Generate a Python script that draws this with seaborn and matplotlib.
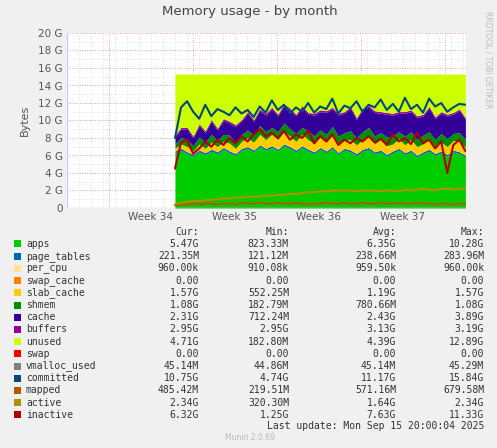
import matplotlib
matplotlib.use("Agg")
import matplotlib.pyplot as plt
import seaborn as sns
import numpy as np

# time axis in days from left edge of the graph
days = np.linspace(9.0, 33.2, 49)

apps = [6.3, 6.6, 6.2, 5.9, 6.4, 6.1, 6.5, 6.2, 6.7, 6.3, 6.0, 6.6, 6.8, 6.4, 7.0, 6.6, 6.9, 6.5, 7.1, 6.8,
        6.4, 6.9, 6.5, 6.2, 6.7, 6.3, 6.8, 6.1, 6.6, 6.4, 6.0, 6.5, 6.7, 6.2, 6.4, 5.9, 6.3, 6.6, 6.1, 6.4,
        5.8, 6.2, 6.5, 6.0, 6.3, 5.9, 6.4, 6.2, 5.8]
page_tables = [0.22] * 49
slab_cache = [0.3, 0.5, 0.6, 0.4, 0.7, 0.5, 0.8, 0.6, 0.7, 0.9, 0.6, 0.8, 1.0, 0.9, 1.2, 1.0, 1.3, 1.1, 1.4, 1.2,
              1.0, 1.3, 1.1, 0.9, 1.2, 1.0, 1.3, 1.1, 0.9, 1.2, 1.0, 1.1, 1.3, 0.9, 1.2, 1.0, 0.8, 1.1, 0.9, 1.2,
              1.0, 0.9, 1.1, 0.8, 1.0, 0.9, 1.1, 1.2, 0.9]
shmem = [0.5, 0.7, 0.8, 0.6, 0.8, 0.7, 0.9, 0.7, 0.8, 0.9, 0.7, 0.8, 0.9, 0.8, 1.0, 0.9, 0.8, 0.9, 1.0, 0.8,
         0.9, 0.8, 1.0, 0.9, 0.8, 0.9, 1.0, 0.8, 0.9, 1.0, 0.8, 0.9, 1.0, 0.9, 0.8, 1.0, 0.9, 0.8, 1.0, 0.9,
         0.8, 1.0, 0.9, 0.8, 1.0, 0.9, 0.8, 1.0, 0.9]
cache = [0.8, 1.0, 1.2, 0.9, 1.3, 1.1, 1.5, 1.2, 1.6, 1.4, 1.8, 1.5, 1.9, 1.6, 1.7, 1.9, 2.1, 1.8, 2.0, 2.2,
         2.0, 2.3, 1.9, 2.4, 2.1, 2.5, 2.0, 2.4, 2.2, 2.6, 2.1, 2.5, 2.3, 2.7, 2.2, 2.6, 2.4, 2.1, 2.6, 2.3,
         2.5, 2.2, 2.7, 2.4, 2.3, 2.6, 2.2, 2.5, 2.3]
buffers = [0.2] * 49
total_mem = 15.3

committed = [8.0, 11.5, 12.2, 11.0, 10.2, 11.8, 10.5, 11.3, 11.0, 10.6, 11.5, 10.8, 11.2, 10.4, 11.6, 10.9, 12.3,
             11.2, 11.8, 10.8, 11.5, 11.0, 12.0, 10.9, 11.6, 11.3, 12.5, 10.8, 11.7, 11.4, 12.2, 11.0, 11.8, 11.5,
             12.4, 11.2, 11.9, 11.0, 12.6, 11.3, 11.8, 10.9, 12.5, 11.6, 12.0, 11.0, 11.5, 11.9, 11.8]
inactive = [4.5, 7.5, 7.8, 6.2, 6.8, 7.6, 7.0, 7.8, 7.2, 8.0, 7.4, 8.2, 7.6, 8.4, 9.0, 8.2, 8.6, 8.0, 8.8, 7.8,
            8.4, 8.0, 8.8, 7.4, 8.2, 7.6, 8.4, 7.2, 7.8, 7.4, 8.0, 7.6, 8.2, 7.5, 7.9, 7.2, 8.4, 7.6, 8.0, 7.3,
            8.6, 7.4, 7.8, 6.8, 7.6, 4.0, 7.2, 7.8, 6.5]
active = [0.4, 0.6, 0.7, 0.8, 0.8, 0.9, 0.9, 1.0, 1.1, 1.1, 1.2, 1.2, 1.3, 1.3, 1.3, 1.4, 1.4, 1.5, 1.5, 1.6,
          1.6, 1.7, 1.8, 1.8, 1.9, 1.9, 2.0, 2.0, 2.0, 2.0, 1.9, 2.0, 2.0, 2.0, 1.9, 2.0, 2.0, 1.9, 2.1, 2.0,
          2.1, 2.2, 2.1, 2.0, 2.2, 2.2, 2.1, 2.2, 2.3]
mapped = [0.3, 0.4, 0.4, 0.5, 0.4, 0.5, 0.5, 0.4, 0.5, 0.5, 0.4, 0.6, 0.5, 0.5, 0.6, 0.5, 0.5, 0.6, 0.5, 0.5,
          0.6, 0.5, 0.4, 0.5, 0.5, 0.6, 0.5, 0.5, 0.6, 0.5, 0.5, 0.6, 0.5, 0.5, 0.6, 0.5, 0.5, 0.6, 0.5, 0.5,
          0.6, 0.5, 0.5, 0.4, 0.5, 0.5, 0.4, 0.5, 0.5]
vmalloc_used = [0.045] * 49

week_pos = [7.0, 14.0, 21.0, 28.0]
week_labels = ["Week 34", "Week 35", "Week 36", "Week 37"]

names = ["apps", "page_tables", "per_cpu", "swap_cache", "slab_cache", "shmem", "cache", "buffers", "unused",
         "swap", "vmalloc_used", "committed", "mapped", "active", "inactive"]
colors = ["#00CC00", "#0066B3", "#FFE28A", "#FF8000", "#FFCC00", "#008F00", "#330099", "#990099", "#CCFF00",
          "#FF0000", "#808080", "#00487D", "#B35A00", "#B38F00", "#B30000"]
cur = ["5.47G", "221.35M", "960.00k", "0.00", "1.57G", "1.08G", "2.31G", "2.95G", "4.71G", "0.00", "45.14M",
       "10.75G", "485.42M", "2.34G", "6.32G"]
mins = ["823.33M", "121.12M", "910.08k", "0.00", "552.25M", "182.79M", "712.24M", "2.95G", "182.80M", "0.00",
        "44.86M", "4.74G", "219.51M", "320.30M", "1.25G"]
avgs = ["6.35G", "238.66M", "959.50k", "0.00", "1.19G", "780.66M", "2.43G", "3.13G", "4.39G", "0.00", "45.14M",
        "11.17G", "571.16M", "1.64G", "7.63G"]
maxs = ["10.28G", "283.96M", "960.00k", "0.00", "1.57G", "1.08G", "3.89G", "3.19G", "12.89G", "0.00", "45.29M",
        "15.84G", "679.58M", "2.34G", "11.33G"]

sns.set_style("white")
plt.rcParams['font.family'] = ['DejaVu Sans']
W, H = 497, 448
fig = plt.figure(figsize=(W / 100, H / 100), dpi=100, facecolor="#F0F0F0")
ax = fig.add_axes([67 / W, 1 - 208 / H, 399 / W, 175 / H])
ax.set_facecolor("white")

stack = [apps, page_tables, slab_cache, shmem, cache, buffers]
stack_cols = ["#00CC00", "#0066B3", "#FFCC00", "#008F00", "#330099", "#990099"]
base = np.zeros(len(days))
for s, c in zip(stack, stack_cols):
    top = base + np.array(s)
    ax.fill_between(days, base, top, color=c, linewidth=0)
    base = top
ax.fill_between(days, base, total_mem, color="#CCFF00", linewidth=0)

sns.lineplot(x=days, y=vmalloc_used, ax=ax, color="#808080", lw=1)
sns.lineplot(x=days, y=mapped, ax=ax, color="#B35A00", lw=1.5)
sns.lineplot(x=days, y=active, ax=ax, color="#B38F00", lw=1.5)
sns.lineplot(x=days, y=inactive, ax=ax, color="#B30000", lw=1.5)
sns.lineplot(x=days, y=committed, ax=ax, color="#00487D", lw=1.5)

ax.set_xlim(0, 33.25)
ax.set_ylim(0, 20)
# grid
for d in range(1, 34):
    ax.axvline(d, color="#CCCCCC", lw=0.5, ls=(0, (1, 2)), zorder=0)
for d in [3.5, 10.5, 17.5, 24.5, 31.5]:
    ax.axvline(d, color="#E08080", lw=0.6, ls=(0, (1, 2)), zorder=0)
for g in range(1, 21):
    c = "#E08080" if g % 2 == 0 else "#CCCCCC"
    ax.axhline(g, color=c, lw=0.6 if g % 2 == 0 else 0.5, ls=(0, (1, 2)), zorder=0)
ax.set_axisbelow(True)
for sp in ax.spines.values():
    sp.set_visible(False)
ax.axhline(0, color="#C8C8FF", lw=1)
ax.axvline(0, color="#C8C8FF", lw=1)

ax.set_yticks(range(0, 21, 2))
ax.set_yticklabels([f"{v} G" if v else "0" for v in range(0, 21, 2)], fontsize=7.5, color="#555555")
ax.set_xticks(week_pos)
ax.set_xticklabels(week_labels, fontsize=7.5, color="#555555")
ax.tick_params(length=0, pad=3)
ax.set_ylabel("Bytes", fontsize=8, color="#555555", labelpad=6)

fig.text(250 / W, 1 - 11 / H, "Memory usage - by month", ha="center", va="center", fontsize=9.5, color="#444444")
fig.text(488 / W, 1 - 60 / H, "RRDTOOL / TOBI OETIKER", rotation=270, ha="center", va="center",
         fontsize=5.5, color="#BBBBBB")

mono = "DejaVu Sans Mono"
fs = 7
col_x = [199, 289, 396, 484]
for x, h in zip(col_x, ["Cur:", "Min:", "Avg:", "Max:"]):
    fig.text(x / W, 1 - 232 / H, h, ha="right", va="center", fontsize=fs, family=mono, color="#333333")
for i, n in enumerate(names):
    y = 1 - (244 + i * 12.2) / H
    fig.patches.append(plt.Rectangle((14 / W, y - 3.5 / H), 7 / W, 7 / H, transform=fig.transFigure,
                                     facecolor=colors[i], edgecolor="none"))
    fig.text(26 / W, y, n, ha="left", va="center", fontsize=fs, family=mono, color="#333333")
    for x, v in zip(col_x, [cur[i], mins[i], avgs[i], maxs[i]]):
        fig.text(x / W, y, v, ha="right", va="center", fontsize=fs, family=mono, color="#333333")
fig.text(484 / W, 1 - 426 / H, "Last update: Mon Sep 15 20:00:04 2025", ha="right", va="center",
         fontsize=fs, family=mono, color="#333333")
fig.text(250 / W, 1 - 437 / H, "Munin 2.0.69", ha="center", va="center", fontsize=5.5, color="#BBBBBB")

fig.savefig("out.png", dpi=100, facecolor=fig.get_facecolor())
